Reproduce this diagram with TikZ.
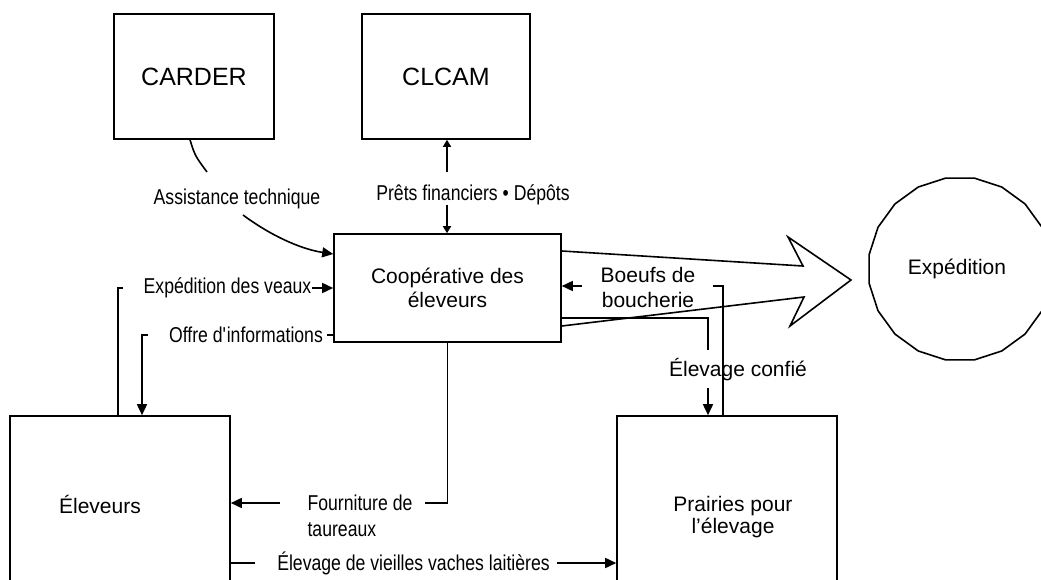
\documentclass[tikz,border=0pt]{standalone}
\usepackage{fontspec}
\setmainfont{Liberation Sans}
\newfontfamily\narrowfont[FakeStretch=0.82]{Liberation Sans}
\usetikzlibrary{arrows.meta,calc,shapes.geometric}
\begin{document}
\begin{tikzpicture}[x=1pt,y=1pt,line width=1.6pt,
  >={Triangle[length=11pt,width=10pt]},
  smalltip/.style={-{Triangle[length=7pt,width=8pt]}},
  box/.style={draw,rectangle,inner sep=0pt,font=\fontsize{25}{28}\selectfont},
  txt/.style={align=center,font=\fontsize{21}{24}\selectfont},
  lab/.style={inner sep=2pt,font=\narrowfont\fontsize{21.5}{26}\selectfont}]
\useasboundingbox (0,0) rectangle (1041,579);
\clip (0,0) rectangle (1041,579);
% boxes
\node[box,minimum width=160pt,minimum height=125pt] (carder) at (194,502.5) {CARDER};
\node[box,minimum width=168pt,minimum height=125pt] (clcam) at (446,502.5) {CLCAM};
\node[box,txt,minimum width=227pt,minimum height=108pt] (coop) at (447.5,291) {Coopérative des\\éleveurs};
\node[draw,regular polygon,regular polygon sides=20,minimum size=184pt,inner sep=0pt,txt] (exp) at (960,310) {};
\node[txt] (expt) at (957,310) {Expédition};
\node[draw,minimum width=220pt,minimum height=200pt] (elev) at (120,63) {};
\node[txt] (elevt) at (100,75) {Éleveurs};
\node[draw,minimum width=220pt,minimum height=200pt] (prai) at (727,63) {};
\node[align=center,font=\fontsize{21}{22}\selectfont] (prait) at (733,62) {Prairies pour\\l’élevage};
% labels
\node[lab] (lassist) at (237,380) {Assistance technique};
\node[lab] (lpret) at (473,384) {Prêts financiers • Dépôts};
\node[lab] (lveaux) at (227.5,291) {Expédition des veaux};
\node[lab] (loffre) at (246,244) {Offre d\textquotesingle informations};
\node[lab,align=left] (lfour) at (360,63) {Fourniture de\\taureaux};
\node[lab] (lvache) at (413.5,16) {Élevage de vieilles vaches laitières};
\node[txt] (lconf) at (738,209) {Élevage confié};
\node[align=center,font=\fontsize{21}{25}\selectfont] (lboeuf) at (648,291.5) {Boeufs de\\boucherie};
% connector coordinates
\coordinate (c1) at (207,407);
\coordinate (c2) at (243,364);
\coordinate (p1) at (447,407);
\coordinate (p2) at (447,374);
\coordinate (v1) at (118,291);
\coordinate (v2) at (312,291);
\coordinate (o1) at (327,244);
\coordinate (o2) at (148,244);
\coordinate (f1) at (425,76);
\coordinate (f2) at (280,76);
\coordinate (w1) at (255,16);
\coordinate (w2) at (557,16);
\coordinate (e1) at (708,229);
\coordinate (e2) at (708,191);
\coordinate (b1) at (582,293);
\coordinate (b2) at (713,293);
\coordinate (b3) at (723,293);
% connectors
\draw ([xshift=-4pt]carder.south) .. controls +(5,-16) .. (c1);
\draw[->] (c2) .. controls (270,344) and (300,330) .. ([yshift=34pt]coop.west);
\draw[smalltip] (p1) -- (clcam.south -| p1);
\draw[smalltip] (p2) -- (coop.north -| p2);
\draw (elev.north -| v1) -- (v1) -- ++(5,0);
\draw[->] (v2) -- (coop.west);
\draw (coop.west |- o1) -- (o1);
\draw[->] (o2) -| ([xshift=22pt]elev.north);
\draw (coop.south) |- (f1);
\draw[->] (f2) -- (elev.east |- f2);
\draw (elev.east |- w1) -- (w1);
\draw[->] (w2) -- (prai.west |- w2);
\draw ([yshift=-30pt]coop.east) -| (e1);
\draw[->] (e2) -- (prai.north -| e2);
\draw[->] (b1) -- (coop.east |- b1);
\draw (b2) -- (b3) -- (prai.north -| b3);
% big arrow
\draw[line join=miter] ([yshift=37pt]coop.east) -- (803,313) -- (788,342) -- (851,299)
  -- (790,253) -- (804,282) -- ([yshift=-38pt]coop.east);
\end{tikzpicture}
\end{document}
